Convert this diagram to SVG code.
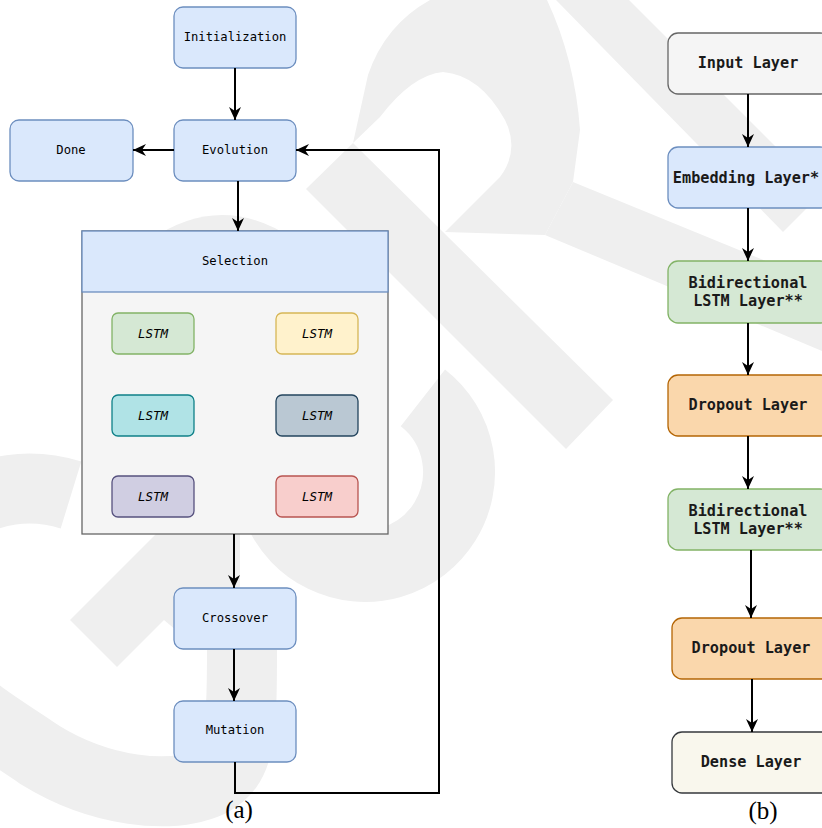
<svg xmlns="http://www.w3.org/2000/svg" width="822" height="828" viewBox="0 0 822 828">
<defs>
<marker id="arr" markerUnits="userSpaceOnUse" markerWidth="14" markerHeight="12" refX="13" refY="6" orient="auto">
<path d="M0,0 L13,6 L0,12 L4,6 Z" fill="#000"/>
</marker>
<style>
.wm{fill:#efefef;stroke:none}
.wms{fill:none;stroke:#efefef}
.blue{fill:#dae8fc;stroke:#6c8ebf;stroke-width:1.3}
.grey{fill:#f5f5f5;stroke:#666666;stroke-width:1.3}
.green{fill:#d5e8d4;stroke:#82b366;stroke-width:1.3}
.orange{fill:#fad7ac;stroke:#b46504;stroke-width:1.3}
.dense{fill:#f9f7ed;stroke:#36393d;stroke-width:1.3}
.yellow{fill:#fff2cc;stroke:#d6b656;stroke-width:1.3}
.teal{fill:#b0e3e6;stroke:#0e8088;stroke-width:1.3}
.slate{fill:#bac8d3;stroke:#23445d;stroke-width:1.3}
.purple{fill:#d0cee2;stroke:#56517e;stroke-width:1.3}
.red{fill:#f8cecc;stroke:#b85450;stroke-width:1.3}
.lt{font-family:"DejaVu Sans Mono","Liberation Mono",monospace;font-size:12.2px;fill:#000;text-anchor:middle;dominant-baseline:central}
.it{font-family:"DejaVu Sans Mono","Liberation Mono",monospace;font-size:12.5px;font-style:italic;fill:#000;text-anchor:middle;dominant-baseline:central}
.rt{font-family:"DejaVu Sans Mono","Liberation Mono",monospace;font-size:15.2px;font-weight:bold;fill:#1a1a1a;text-anchor:middle;dominant-baseline:central}
.cap{font-family:"Liberation Serif","Times New Roman",serif;font-size:25px;fill:#000;text-anchor:middle}
.conn{fill:none;stroke:#000;stroke-width:2}
</style>
</defs>
<rect x="0" y="0" width="822" height="828" fill="#ffffff"/>
<g id="watermark">
<polygon class="wm" points="556,0 629,0 822,193 783,232"/>
<polygon class="wm" points="573,182 822,284 822,351 545,235"/>
<polygon class="wm" points="353,143 613,400 566,449 306,189"/>
<path class="wm" d="M353,143 L368,75 Q385,25 430,0 L547,0 Q575,60 580,130 L573,182 L545,235 L445,232 L500,177 Q520,150 505,120 Q480,75 443,72 Q412,75 380,117 Z"/>
<path class="wms" stroke-width="72" d="M422.9,397.9 A94,94 0 1 1 276.7,439.9"/>
<path class="wm" d="M150,240 Q222,190 295,240 Z"/>
<path class="wms" stroke-width="70" d="M71,495 C-10,470 -95,520 -85,615 C-75,690 -10,720 40,755 C100,792 170,800 210,782 C240,766 242,740 242,650"/>
<polygon class="wm" points="70,620 158,532 240,532 240,650 200,650 164,620 117,667"/>
</g>
<g id="n-init"><rect class="blue" x="174" y="7" width="122" height="61" rx="9"/><text class="lt" x="235" y="37">Initialization</text></g>
<g id="n-done"><rect class="blue" x="10" y="120" width="123" height="61" rx="9"/><text class="lt" x="71" y="150">Done</text></g>
<g id="n-evolution"><rect class="blue" x="174" y="120" width="122" height="61" rx="9"/><text class="lt" x="235" y="150">Evolution</text></g>
<g id="n-selection">
<rect class="grey" x="82" y="231" width="306" height="303"/>
<rect class="blue" x="82" y="231" width="306" height="61"/>
<text class="lt" x="235" y="261">Selection</text>
</g>
<g id="n-lstm1"><rect class="green" x="112" y="313" width="82" height="41" rx="6"/><text class="it" x="153" y="333.5">LSTM</text></g>
<g id="n-lstm2"><rect class="yellow" x="276" y="313" width="82" height="41" rx="6"/><text class="it" x="317" y="333.5">LSTM</text></g>
<g id="n-lstm3"><rect class="teal" x="112" y="395" width="82" height="41" rx="6"/><text class="it" x="153" y="415">LSTM</text></g>
<g id="n-lstm4"><rect class="slate" x="276" y="395" width="82" height="41" rx="6"/><text class="it" x="317" y="415">LSTM</text></g>
<g id="n-lstm5"><rect class="purple" x="112" y="476" width="82" height="41" rx="6"/><text class="it" x="153" y="496.5">LSTM</text></g>
<g id="n-lstm6"><rect class="red" x="276" y="476" width="82" height="41" rx="6"/><text class="it" x="317" y="496.5">LSTM</text></g>
<g id="n-crossover"><rect class="blue" x="174" y="588" width="122" height="61" rx="9"/><text class="lt" x="235" y="618">Crossover</text></g>
<g id="n-mutation"><rect class="blue" x="174" y="701" width="122" height="61" rx="9"/><text class="lt" x="235" y="730">Mutation</text></g>
<g id="n-input"><rect class="grey" x="668" y="33" width="162" height="61" rx="10"/><text class="rt" x="748" y="63">Input Layer</text></g>
<g id="n-embedding"><rect class="blue" x="668" y="147" width="162" height="61" rx="10"/><text class="rt" x="746" y="178">Embedding Layer*</text></g>
<g id="n-bilstm1"><rect class="green" x="668" y="261" width="162" height="62" rx="10"/><text class="rt" x="748" y="283">Bidirectional</text><text class="rt" x="748" y="301">LSTM Layer**</text></g>
<g id="n-dropout1"><rect class="orange" x="668" y="375" width="162" height="61" rx="10"/><text class="rt" x="748" y="405">Dropout Layer</text></g>
<g id="n-bilstm2"><rect class="green" x="668" y="489" width="162" height="61" rx="10"/><text class="rt" x="748" y="510.5">Bidirectional</text><text class="rt" x="748" y="528.5">LSTM Layer**</text></g>
<g id="n-dropout2"><rect class="orange" x="672" y="618" width="162" height="61" rx="10"/><text class="rt" x="751" y="648">Dropout Layer</text></g>
<g id="n-dense"><rect class="dense" x="672" y="732" width="162" height="61" rx="10"/><text class="rt" x="751" y="762">Dense Layer</text></g>
<g id="connectors">
<path class="conn" marker-end="url(#arr)" d="M235,68 L235,120"/>
<path class="conn" marker-end="url(#arr)" d="M174,150 L133,150"/>
<path class="conn" marker-end="url(#arr)" d="M238,181 L238,231"/>
<path class="conn" marker-end="url(#arr)" d="M234,534 L234,588"/>
<path class="conn" marker-end="url(#arr)" d="M234,649 L234,701"/>
<path class="conn" marker-end="url(#arr)" d="M235,762 L235,793 L439,793 L439,150 L296,150"/>
<path class="conn" marker-end="url(#arr)" d="M748,94 L748,147"/>
<path class="conn" marker-end="url(#arr)" d="M748,208 L748,261"/>
<path class="conn" marker-end="url(#arr)" d="M748,323 L748,375"/>
<path class="conn" marker-end="url(#arr)" d="M748,436 L748,489"/>
<path class="conn" marker-end="url(#arr)" d="M751,550 L751,618"/>
<path class="conn" marker-end="url(#arr)" d="M752,679 L752,732"/>
</g>
<text class="cap" x="239" y="818">(a)</text>
<text class="cap" x="763" y="819">(b)</text>
</svg>
